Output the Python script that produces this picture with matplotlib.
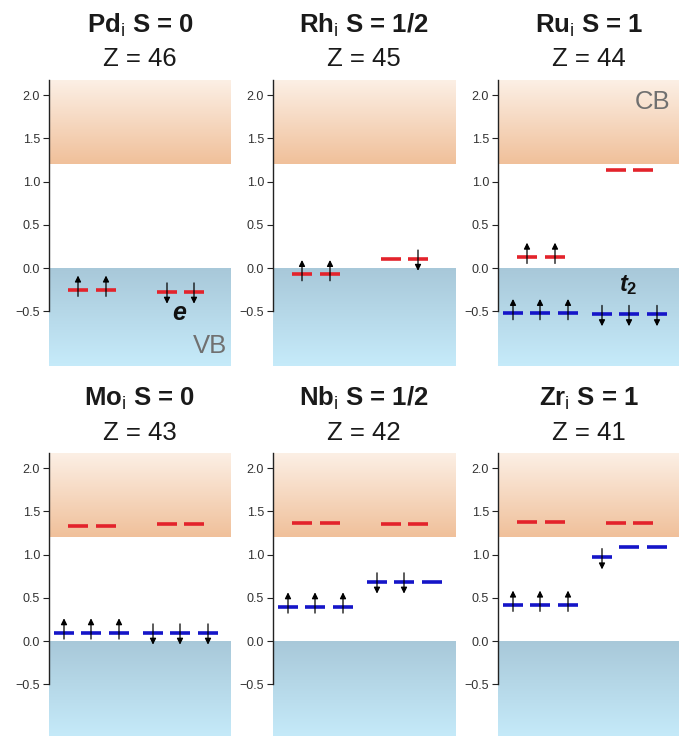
# defect levels of 4d interstitials: e / t2 levels vs band edges
import numpy as np
import matplotlib.pyplot as plt
from matplotlib.colors import LinearSegmentedColormap

plt.rcParams["font.family"] = ["Liberation Sans", "DejaVu Sans"]
plt.rcParams["mathtext.fontset"] = "custom"
plt.rcParams["mathtext.rm"] = "Liberation Sans"
plt.rcParams["mathtext.it"] = "Liberation Sans:italic:bold"
plt.rcParams["mathtext.bf"] = "Liberation Sans:bold"

# --- data ---
elements = ["Pd", "Rh", "Ru", "Mo", "Nb", "Zr"]
spins = ["0", "1/2", "1", "0", "1/2", "1"]
z_numbers = [46, 45, 44, 43, 42, 41]

vbm = 0.0
cbm = 1.2

# e levels (red): spin up / spin down energies (eV) and occupation
e_up = [[-0.25, -0.25], [-0.07, -0.07], [0.13, 0.13], [1.33, 1.33], [1.37, 1.37], [1.38, 1.38]]
e_up_occ = [[1, 1], [1, 1], [1, 1], [0, 0], [0, 0], [0, 0]]
e_dn = [[-0.27, -0.27], [0.11, 0.11], [1.13, 1.13], [1.36, 1.36], [1.36, 1.36], [1.37, 1.37]]
e_dn_occ = [[1, 1], [0, 1], [0, 0], [0, 0], [0, 0], [0, 0]]

# t2 levels (blue)
t2_up = [[], [], [-0.52, -0.52, -0.52], [0.10, 0.10, 0.10], [0.40, 0.40, 0.40], [0.42, 0.42, 0.42]]
t2_up_occ = [[], [], [1, 1, 1], [1, 1, 1], [1, 1, 1], [1, 1, 1]]
t2_dn = [[], [], [-0.53, -0.53, -0.53], [0.10, 0.10, 0.10], [0.69, 0.69, 0.69], [0.97, 1.09, 1.09]]
t2_dn_occ = [[], [], [1, 1, 1], [1, 1, 1], [1, 1, 0], [1, 0, 0]]

# --- layout (pixels) ---
W, H = 679, 736
ax_w, ax_h = 182, 286
lefts = [49, 273, 498]
tops = [80, 453]
ylim = (-1.13, 2.175)

# slot positions inside a panel (panel x runs 0..182)
x_t2_up = [15, 42, 70]
x_t2_dn = [104, 131, 159]
x_e_up = [29, 57]
x_e_dn = [118, 145]
half = 10

red = "#e3232b"
blue = "#1515c8"
orange_cmap = LinearSegmentedColormap.from_list("cb", ["#f0c09a", "#fcf0e6"])
blue_cmap = LinearSegmentedColormap.from_list("vb", ["#c6ebfa", "#a8c8d9"])
grad = np.linspace(0, 1, 256).reshape(-1, 1)

fig = plt.figure(figsize=(W / 100, H / 100), dpi=100)


def draw_level(ax, x, e, color, occ, up):
    ax.hlines(e, x - half, x + half, color=color, lw=2.6, zorder=3)
    if not occ:
        return
    if up:
        start, end = e - 0.075, e + 0.165
    else:
        start, end = e + 0.10, e - 0.14
    ax.annotate("", xy=(x, end), xytext=(x, start),
                arrowprops=dict(arrowstyle="-|>", color="black", lw=0.9,
                                mutation_scale=9, shrinkA=0, shrinkB=0),
                zorder=4)


for i, el in enumerate(elements):
    row, col = divmod(i, 3)
    left, top = lefts[col], tops[row]
    ax = fig.add_axes([left / W, 1 - (top + ax_h) / H, ax_w / W, ax_h / H])

    ax.imshow(grad, extent=[0, ax_w, cbm, ylim[1]], origin="lower",
              aspect="auto", cmap=orange_cmap, zorder=0)
    ax.imshow(grad, extent=[0, ax_w, ylim[0], vbm], origin="lower",
              aspect="auto", cmap=blue_cmap, zorder=0)

    for x, e, o in zip(x_e_up, e_up[i], e_up_occ[i]):
        draw_level(ax, x, e, red, o, True)
    for x, e, o in zip(x_e_dn, e_dn[i], e_dn_occ[i]):
        draw_level(ax, x, e, red, o, False)
    for x, e, o in zip(x_t2_up, t2_up[i], t2_up_occ[i]):
        draw_level(ax, x, e, blue, o, True)
    for x, e, o in zip(x_t2_dn, t2_dn[i], t2_dn_occ[i]):
        draw_level(ax, x, e, blue, o, False)

    ax.set_xlim(0, ax_w)
    ax.set_ylim(*ylim)
    ax.set_yticks([-0.5, 0.0, 0.5, 1.0, 1.5, 2.0])
    ax.set_yticklabels(["\u22120.5", "0.0", "0.5", "1.0", "1.5", "2.0"])
    ax.set_xticks([])
    for s in ["top", "right", "bottom"]:
        ax.spines[s].set_visible(False)
    ax.spines["left"].set_bounds(-0.5, ylim[1])
    ax.spines["left"].set_color("#222222")
    ax.spines["left"].set_linewidth(1.0)
    ax.spines["left"].set_zorder(5)
    ax.tick_params(axis="y", labelsize=9, length=4, width=0.8, pad=2.5,
                   color="#222222", labelcolor="#333333")

    cx = (left + ax_w / 2) / W
    fig.text(cx, 1 - (top - 54.5) / H, el + r"$_\mathrm{i}$" + " S = " + spins[i],
             ha="center", va="center", fontsize=18.5, fontweight="bold", color="#1a1a1a")
    fig.text(cx, 1 - (top - 20.5) / H, "Z = %d" % z_numbers[i],
             ha="center", va="center", fontsize=18.5, color="#1a1a1a")

    if el == "Pd":
        ax.text(131, -0.52, r"$e$", ha="center", va="center", fontsize=18, color="#111111", zorder=6)
        ax.text(178, -0.9, "VB", ha="right", va="center", fontsize=18.5, color="#707070", zorder=6)
    if el == "Ru":
        ax.text(130, -0.19, r"$t_\mathbf{2}$", ha="center", va="center", fontsize=17, color="#111111", zorder=6)
        ax.text(172, 1.92, "CB", ha="right", va="center", fontsize=18.5, color="#707070", zorder=6)

fig.savefig("out.png", dpi=100)
